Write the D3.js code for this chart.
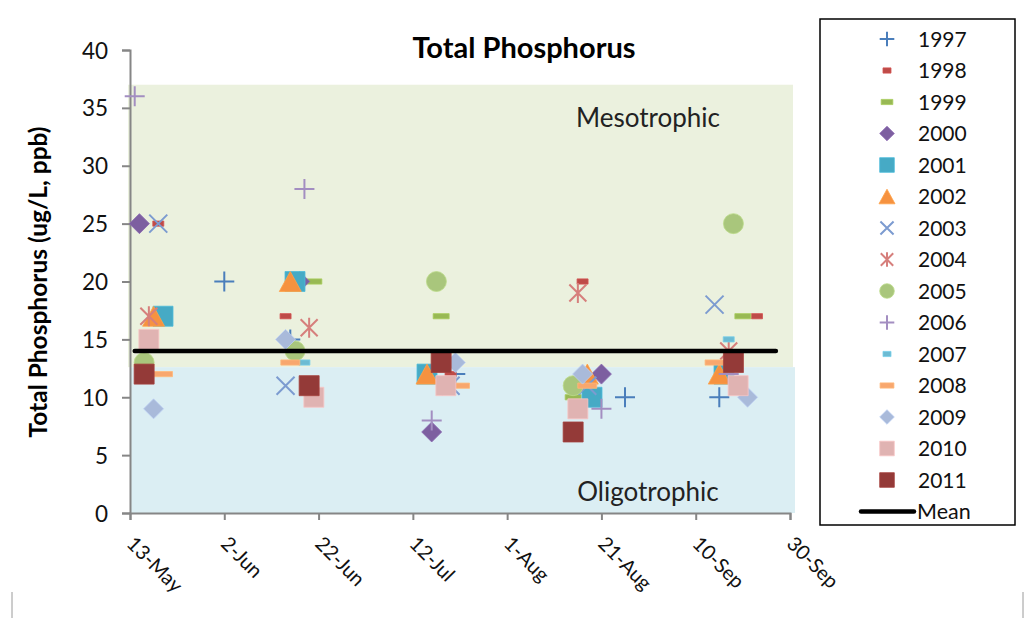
<!DOCTYPE html>
<html>
<head>
<meta charset="utf-8">
<script src="https://cdn.jsdelivr.net/npm/d3@7"></script>
<style>
  body { margin: 0; background: #fff; }
  text { font-family: Lato, "Open Sans", sans-serif; }
</style>
</head>
<body>
<div id="chart"></div>
<script>
// sampling dates (all years folded onto one calendar) and total phosphorus, ug/L
var years = ["1997","1998","1999","2000","2001","2002","2003","2004","2005","2006","2007","2008","2009","2010","2011"];
var shapes = ["plus","dashS","dashM","diamond","square","triangle","times","asterisk","circle","plus","dashS","dashL","diamond","square","square"];
var colors = ["#4A7EBB","#BE4B48","#98B954","#7D5FA0","#46AAC5","#F69240","#7C9BD0","#D67F7C","#A9C67C","#A38EC1","#6CBBD3","#F8A76E","#A9BADA","#E0B3B2","#943A38"];

var tp1997 = [["2011-06-02",20],["2011-06-16",15],["2011-07-21",12],["2011-08-26",10],["2011-09-15",10]];
var tp1998 = [["2011-05-19",25],["2011-06-15",17],["2011-07-20",12],["2011-08-17",20],["2011-09-23",17]];
var tp1999 = [["2011-06-21",20],["2011-07-18",17],["2011-08-15",10],["2011-09-20",17]];
var tp2000 = [["2011-05-15",25],["2011-06-18",20],["2011-07-16",7],["2011-08-21",12]];
var tp2001 = [["2011-05-20",17],["2011-06-17",20],["2011-07-15",12],["2011-08-19",10],["2011-09-16",12]];
var tp2002 = [["2011-05-18",17],["2011-06-16",20],["2011-07-15",12],["2011-08-18",12],["2011-09-15",12]];
var tp2003 = [["2011-05-19",25],["2011-06-15",11],["2011-07-20",11],["2011-08-18",11],["2011-09-14",18]];
var tp2004 = [["2011-05-17",17],["2011-06-20",16],["2011-08-16",19],["2011-09-17",14]];
var tp2005 = [["2011-05-16",13],["2011-06-17",14],["2011-07-17",20],["2011-08-15",11],["2011-09-18",25]];
var tp2006 = [["2011-05-14",36],["2011-06-19",28],["2011-07-16",8],["2011-08-21",9],["2011-09-17",12]];
var tp2007 = [["2011-06-19",13],["2011-09-17",15]];
var tp2008 = [["2011-05-20",12],["2011-06-16",13],["2011-07-22",11],["2011-08-18",11],["2011-09-14",13]];
var tp2009 = [["2011-05-18",9],["2011-06-15",15],["2011-07-21",13],["2011-08-17",12],["2011-09-21",10]];
var tp2010 = [["2011-05-17",15],["2011-06-21",10],["2011-07-19",11],["2011-08-16",9],["2011-09-19",11]];
var tp2011 = [["2011-05-16",12],["2011-06-20",11],["2011-07-18",13],["2011-08-15",7],["2011-09-18",13]];
var seriesValues = [tp1997,tp1998,tp1999,tp2000,tp2001,tp2002,tp2003,tp2004,tp2005,tp2006,tp2007,tp2008,tp2009,tp2010,tp2011];

var meanDates = ["2011-05-14","2011-09-27"];
var meanValue = 14;

// trophic bands (value ranges)
var mesoRange = [12.6, 37];
var oligoRange = [0, 12.6];

var xDomain = ["2011-05-13","2011-09-30"];
var xTicks = ["2011-05-13","2011-06-02","2011-06-22","2011-07-12","2011-08-01","2011-08-21","2011-09-10","2011-09-30"];
var yTicks = [0,5,10,15,20,25,30,35,40];

var parse = d3.utcParse("%Y-%m-%d");
var fmt = d3.utcFormat("%-d-%b");

var svg = d3.select("#chart").append("svg")
  .attr("width", 1036)
  .attr("height", 618);

svg.append("rect").attr("width", 1036).attr("height", 618).attr("fill", "#fff");

var x = d3.scaleUtc()
  .domain(xDomain.map(parse))
  .range([130, 790]);
var y = d3.scaleLinear()
  .domain([0, 40])
  .range([513, 50]);

// background bands
svg.append("rect")
  .attr("x", 128).attr("width", 665)
  .attr("y", y(mesoRange[1])).attr("height", y(mesoRange[0]) - y(mesoRange[1]))
  .attr("fill", "#EBF1DE");
svg.append("rect")
  .attr("x", 131).attr("width", 664)
  .attr("y", y(oligoRange[1])).attr("height", y(oligoRange[0]) - y(oligoRange[1]))
  .attr("fill", "#DBEEF3");

svg.append("text").attr("x", 648).attr("y", 127)
  .attr("text-anchor", "middle").attr("font-size", 26).attr("fill", "#222")
  .text("Mesotrophic");
svg.append("text").attr("x", 648).attr("y", 501)
  .attr("text-anchor", "middle").attr("font-size", 26).attr("fill", "#222")
  .text("Oligotrophic");

// axes
var yAxis = d3.axisLeft(y).tickValues(yTicks).tickSize(8).tickPadding(14);
var gy = svg.append("g").attr("transform", "translate(130,0)").call(yAxis);
gy.selectAll("text").attr("font-size", 22.5).attr("fill", "#111").attr("font-family", "Lato, sans-serif")
  .attr("dy", "0.36em");

var xAxis = d3.axisBottom(x).tickValues(xTicks.map(parse)).tickSize(7).tickFormat(fmt);
var gx = svg.append("g").attr("transform", "translate(0,513)").call(xAxis);
gx.selectAll("text")
  .attr("font-size", 20).attr("fill", "#111").attr("font-family", "Lato, sans-serif")
  .attr("text-anchor", "start")
  .attr("dy", null).attr("y", 0)
  .attr("transform", "translate(-5,32) rotate(45)");

[gx, gy].forEach(function(g) {
  g.select(".domain").attr("stroke", "#868686").attr("stroke-width", 2);
  g.selectAll(".tick line").attr("stroke", "#868686").attr("stroke-width", 2);
});

// marker shapes
function markerPath(shape, r) {
  var p = d3.path();
  if (shape === "plus") {
    p.moveTo(-r, 0); p.lineTo(r, 0); p.moveTo(0, -r); p.lineTo(0, r);
  } else if (shape === "times") {
    var a = r * 0.9;
    p.moveTo(-a, -a); p.lineTo(a, a); p.moveTo(-a, a); p.lineTo(a, -a);
  } else if (shape === "asterisk") {
    var b = r * 0.85;
    p.moveTo(-b, -b); p.lineTo(b, b); p.moveTo(-b, b); p.lineTo(b, -b);
    p.moveTo(0, -r); p.lineTo(0, r);
  } else if (shape === "diamond") {
    p.moveTo(0, -r); p.lineTo(r, 0); p.lineTo(0, r); p.lineTo(-r, 0); p.closePath();
  } else if (shape === "square") {
    p.rect(-r, -r, 2 * r, 2 * r);
  } else if (shape === "triangle") {
    p.moveTo(0, -r); p.lineTo(r * 1.1, r); p.lineTo(-r * 1.1, r); p.closePath();
  } else if (shape === "circle") {
    p.arc(0, 0, r, 0, 2 * Math.PI);
  } else {
    var w = shape === "dashS" ? r * 0.55 : shape === "dashM" ? r * 0.8 : r * 0.95;
    p.rect(-w, -2.6, 2 * w, 5.2);
  }
  return p.toString();
}
function isStroke(shape) { return shape === "plus" || shape === "times" || shape === "asterisk"; }

function drawMarker(g, shape, color, r) {
  var el = g.append("path").attr("d", markerPath(shape, r));
  if (isStroke(shape)) {
    el.attr("fill", "none").attr("stroke", color).attr("stroke-width", 2);
  } else {
    el.attr("fill", color).attr("stroke", d3.color(color).brighter(0.3)).attr("stroke-width", 0.8);
  }
  return el;
}

seriesValues.forEach(function(vals, i) {
  var g = svg.append("g").attr("class", "series-" + years[i]);
  vals.forEach(function(d) {
    var m = g.append("g")
      .attr("transform", "translate(" + x(parse(d[0])) + "," + y(d[1]) + ")");
    drawMarker(m, shapes[i], colors[i], 10);
  });
});

// mean line
svg.append("line")
  .attr("x1", x(parse(meanDates[0]))).attr("x2", x(parse(meanDates[1])))
  .attr("y1", y(meanValue)).attr("y2", y(meanValue))
  .attr("stroke", "#000").attr("stroke-width", 4.5).attr("stroke-linecap", "round");

// titles
svg.append("text").attr("x", 524).attr("y", 58)
  .attr("text-anchor", "middle").attr("font-size", 29).attr("font-weight", "bold")
  .text("Total Phosphorus");
svg.append("text")
  .attr("transform", "translate(47,282) rotate(-90)")
  .attr("text-anchor", "middle").attr("font-size", 24.5).attr("font-weight", "bold")
  .text("Total Phosphorus (ug/L, ppb)");

// legend
var legend = svg.append("g");
legend.append("rect")
  .attr("x", 820).attr("y", 19).attr("width", 195).attr("height", 506)
  .attr("fill", "#fff").attr("stroke", "#000").attr("stroke-width", 1.5);
years.forEach(function(yr, i) {
  var ly = 39 + i * 31.5;
  var m = legend.append("g").attr("transform", "translate(887," + ly + ")");
  drawMarker(m, shapes[i], colors[i], 7.3);
  legend.append("text").attr("x", 918).attr("y", ly + 7.5)
    .attr("font-size", 21).attr("fill", "#111").text(yr);
});
var meanY = 39 + 15 * 31.5;
legend.append("line").attr("x1", 861).attr("x2", 914).attr("y1", meanY).attr("y2", meanY)
  .attr("stroke", "#000").attr("stroke-width", 4.5).attr("stroke-linecap", "round");
legend.append("text").attr("x", 917).attr("y", meanY + 7.5)
  .attr("font-size", 21.5).attr("fill", "#111").text("Mean");

// chart frame stubs at the bottom
svg.append("line").attr("x1", 12).attr("x2", 12).attr("y1", 592).attr("y2", 618).attr("stroke", "#9a9a9a");
svg.append("line").attr("x1", 1023).attr("x2", 1023).attr("y1", 592).attr("y2", 618).attr("stroke", "#9a9a9a");
</script>
</body>
</html>
